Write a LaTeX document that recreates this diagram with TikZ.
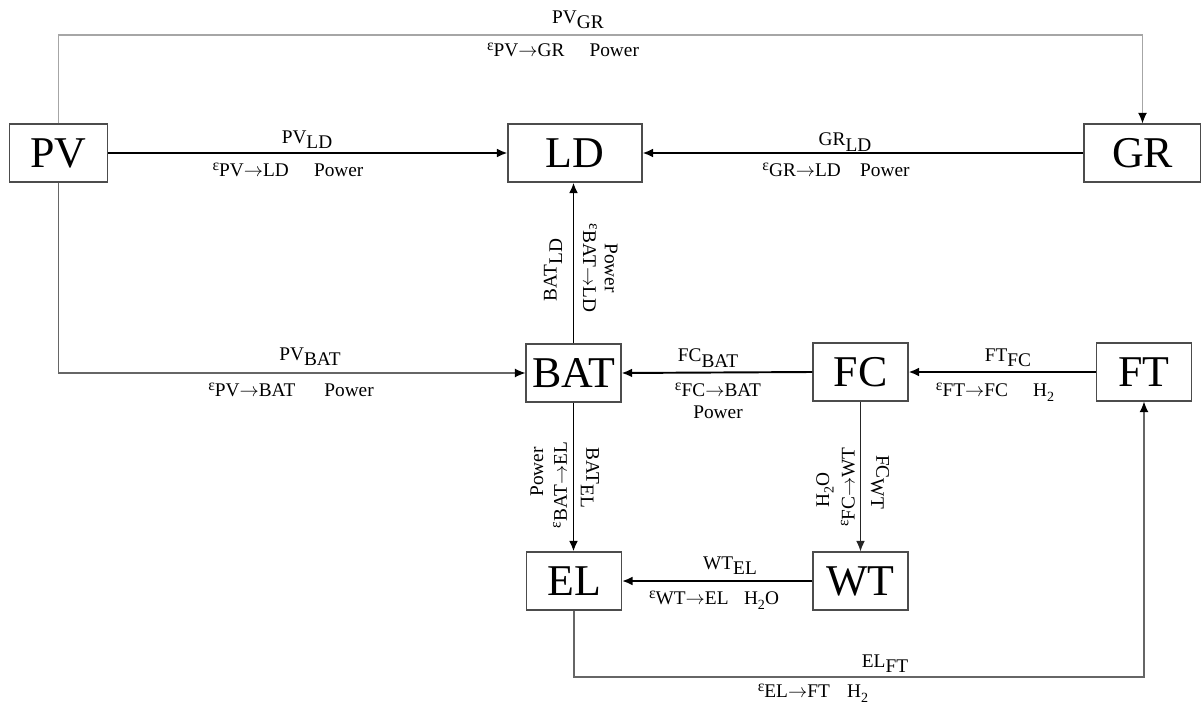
\documentclass[tikz,border=0pt]{standalone}
\usepackage{fontspec}
\setmainfont{Liberation Serif}
\usetikzlibrary{arrows.meta}

\newcommand{\fl}[2]{#1\raisebox{-.6ex}{#2}}
\newcommand{\ef}[2]{\raisebox{.7ex}{\small ε}#1$\rightarrow$#2}
\newcommand{\htwo}{H\raisebox{-.5ex}{\footnotesize 2}}

\tikzset{
  box/.style={draw=gray!60!black,line width=0.6pt,minimum width=1.9cm,
    minimum height=1.16cm,inner sep=0pt,font=\fontsize{25}{28}\selectfont},
  lbl/.style={font=\fontsize{11}{13}\selectfont,inner sep=1pt},
  flow/.style={line width=1.1pt,-{Latex[length=6pt,width=5pt]}},
  link/.style={line width=0.6pt,gray!80!black,-{Latex[length=6pt,width=5pt,color=black]}}
}

\begin{document}
\begin{tikzpicture}[x=0.02cm,y=-0.02cm]
      \useasboundingbox (0,0) rectangle (1201,706);
      % units
      \node[box,minimum width=1.96cm] (PV) at (58.5,153) {PV};
      \node[box,minimum width=2.68cm] (LD) at (575,153) {LD};
      \node[box,minimum width=2.34cm] (GR) at (1142.5,153) {GR};
      \node[box] (BAT) at (573.5,373) {BAT};
      \node[box] (FC) at (860.5,372) {FC};
      \node[box] (FT) at (1144,372) {FT};
      \node[box] (EL) at (574,581) {EL};
      \node[box] (WT) at (860.5,581) {WT};
      \coordinate (grtop) at (1142.5,35);
      \coordinate (elft) at (574,677);

      % connectors
      \draw[link,gray!70] (PV.north) |- (grtop) -- (GR.north);
      \draw[flow] (PV.east) -- (LD.west);
      \draw[flow] (GR.west) -- (LD.east);
      \draw[link] (PV.south) |- (BAT.west);
      \draw[flow] (BAT.north) -- (BAT.north |- LD.south);
      \draw[flow] (FC.west) -- (BAT.east);
      \draw[flow] (FT.west) -- (FC.east);
      \draw[flow] (BAT.south) -- (BAT.south |- EL.north);
      \draw[flow,line width=0.8pt,gray!30!black] (FC.south) -- (WT.north);
      \draw[flow] (WT.west) -- (EL.east);
      \draw[link] (EL.south) -- (elft) -| (FT.south);

      % labels
      \node[lbl] at (578,20) {\fl{PV}{GR}};
      \node[lbl] at (563,50) {\ef{PV}{GR}\hspace{1.3em}Power};
      \node[lbl] at (307,140) {\fl{PV}{LD}};
      \node[lbl] at (288,170) {\ef{PV}{LD}\hspace{1.3em}Power};
      \node[lbl] at (845,142) {\fl{GR}{LD}};
      \node[lbl] at (836,170) {\ef{GR}{LD}\hspace{1em}Power};
      \node[lbl] at (310,357) {\fl{PV}{BAT}};
      \node[lbl] at (291,390) {\ef{PV}{BAT}\hspace{1.5em}Power};
      \node[lbl] at (708,358) {\fl{FC}{BAT}};
      \node[lbl] at (718,390) {\ef{FC}{BAT}};
      \node[lbl] at (718,412) {Power};
      \node[lbl] at (1008,358) {\fl{FT}{FC}};
      \node[lbl] at (995,392) {\ef{FT}{FC}\hspace{1.3em}\htwo};
      \node[lbl] at (714,600) {\ef{WT}{EL}\hspace{0.8em}\htwo O};
      \node[lbl] at (730,566) {\fl{WT}{EL}};
      \node[lbl] at (885,664) {\fl{EL}{FT}};
      \node[lbl] at (813,693) {\ef{EL}{FT}\hspace{0.9em}\htwo};
      \node[lbl,rotate=90] at (553,270) {\fl{BAT}{LD}};
      \node[lbl,rotate=-90] at (590,268) {\ef{BAT}{LD}};
      \node[lbl,rotate=-90] at (611,268) {Power};
      \node[lbl,rotate=90] at (537,472) {Power};
      \node[lbl,rotate=90] at (560,485) {\ef{BAT}{EL}};
      \node[lbl,rotate=-90] at (590,478) {\fl{BAT}{EL}};
      \node[lbl,rotate=90] at (825,490) {\htwo O};
      \node[lbl,rotate=90] at (848,487) {\ef{FC}{WT}};
      \node[lbl,rotate=-90] at (880,482) {\fl{FC}{WT}};
    \end{tikzpicture}
\end{document}
